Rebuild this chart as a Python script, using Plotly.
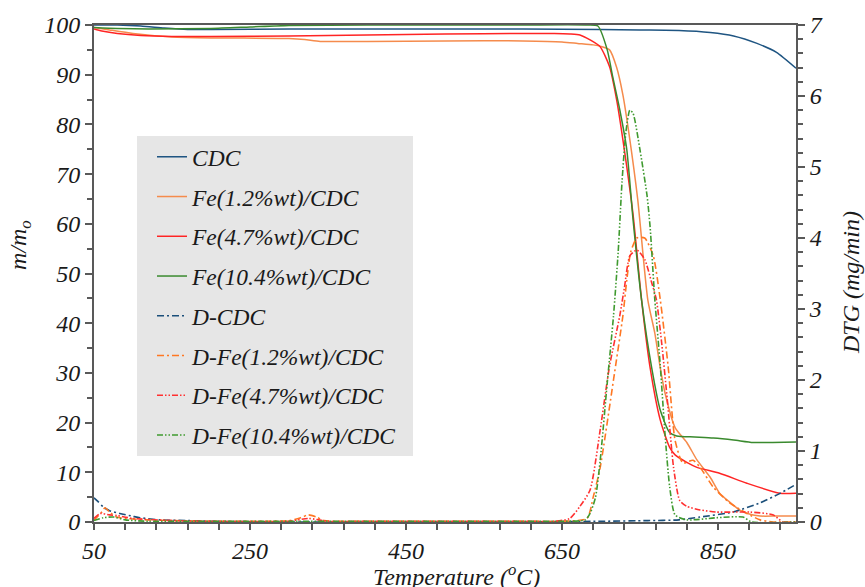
import plotly.graph_objects as go

# ---------------- data ----------------
T_cdc = [50, 80, 110, 140, 170, 200, 300, 400, 500, 600, 700, 750, 800, 840, 870, 900, 925, 950]
m_cdc = [100, 100, 99.8, 99.4, 99.1, 99.1, 99.2, 99.2, 99.2, 99.2, 99.1, 99.0, 98.9, 98.5, 97.8, 96.3, 94.5, 91.3]

T_fe12 = [50, 70, 100, 150, 200, 300, 320, 340, 400, 500, 600, 650, 670, 690, 700, 711, 720, 728, 736, 747,
          760, 769, 776, 782, 795, 810, 823, 840, 852, 865, 878, 890, 904, 925, 950]
m_fe12 = [99.5, 99.0, 98.3, 97.6, 97.4, 97.3, 97.1, 96.7, 96.7, 96.8, 96.8, 96.6, 96.3, 96.0, 95.7, 95.0, 91.5,
          86, 78, 65, 44.7, 38, 31, 26, 19, 16, 12.5, 9, 5.8, 4, 2.4, 1.6, 1.2, 1.2, 1.2]

T_fe47 = [50, 60, 80, 110, 150, 200, 300, 400, 500, 600, 640, 660, 673, 686, 699, 711, 720, 728, 741, 752,
          763, 776, 788, 795, 810, 823, 852, 887, 929, 950]
m_fe47 = [99.2, 98.8, 98.3, 97.9, 97.7, 97.7, 97.8, 98.0, 98.2, 98.3, 98.3, 98.2, 98.0, 97.0, 95.6, 91.6, 85,
          77, 62, 44.7, 31, 20.5, 15, 13.5, 12, 11, 9.8, 7.8, 5.8, 5.8]

T_fe104 = [50, 80, 120, 200, 250, 300, 400, 500, 600, 680, 696, 708, 715, 724, 733, 741, 752, 765, 776, 788,
           797, 820, 844, 870, 895, 920, 950]
m_fe104 = [99.5, 99.3, 99.2, 99.3, 99.6, 99.9, 100, 100, 100, 100, 99.8, 95, 89.6, 83, 75, 61, 44.7, 31, 22.5,
           18, 17.3, 17.1, 16.9, 16.5, 16.0, 16.0, 16.1]

Td_cdc = [50, 55, 62, 70, 83, 100, 109, 135, 170, 200, 300, 400, 500, 600, 700, 760, 800, 827, 869, 904, 929, 950]
d_cdc = [0.34, 0.29, 0.21, 0.16, 0.12, 0.08, 0.06, 0.03, 0.02, 0.01, 0, 0, 0, 0, 0.01, 0.02, 0.03, 0.07, 0.14,
         0.27, 0.40, 0.53]

Td_fe12 = [50, 54, 60, 64, 70, 79, 92, 118, 150, 200, 300, 315, 325, 335, 345, 400, 500, 600, 650, 682, 690,
           699, 716, 728, 733, 738, 746, 756, 767, 776, 786, 795, 805, 818, 827, 844, 865, 887, 904, 920, 950]
d_fe12 = [0.02, 0.07, 0.14, 0.20, 0.14, 0.07, 0.05, 0.03, 0.02, 0.01, 0.02, 0.06, 0.10, 0.07, 0.02, 0.01, 0.01,
          0.01, 0.01, 0.05, 0.35, 0.77, 2.0, 2.9, 3.4, 3.8, 4.0, 4.0, 3.75, 3.13, 2.2, 1.15, 0.83, 0.87, 0.77,
          0.49, 0.27, 0.12, 0.03, 0, 0]

Td_fe47 = [50, 58, 70, 80, 100, 150, 200, 300, 325, 350, 400, 500, 600, 640, 660, 673, 686, 699, 711, 724, 730,
           737, 746, 756, 765, 771, 778, 785, 793, 801, 810, 827, 848, 891, 921, 933, 950]
d_fe47 = [0.05, 0.12, 0.10, 0.09, 0.05, 0.02, 0.01, 0.01, 0.05, 0.01, 0.01, 0.01, 0.01, 0.01, 0.05, 0.22, 0.45,
          1.3, 2.2, 2.9, 3.3, 3.75, 3.83, 3.7, 3.37, 3.13, 2.5, 1.72, 0.77, 0.30, 0.22, 0.17, 0.14, 0.14, 0.10,
          0, 0]

Td_fe104 = [50, 62, 75, 90, 120, 200, 300, 400, 500, 600, 650, 680, 686, 693, 699, 708, 716, 722, 727, 732, 737,
            741, 750, 759, 763, 769, 776, 782, 788, 795, 810, 848, 882, 893, 950]
d_fe104 = [0.02, 0.06, 0.07, 0.03, 0.01, 0.01, 0.01, 0.01, 0.01, 0.01, 0.01, 0.03, 0.12, 0.35, 0.87, 1.96, 2.9,
           3.8, 4.8, 5.5, 5.8, 5.76, 5.24, 4.6, 4.15, 3.13, 2.2, 1.25, 0.5, 0.1, 0.03, 0.06, 0.07, 0, 0]

names = ["CDC", "Fe(1.2%wt)/CDC", "Fe(4.7%wt)/CDC", "Fe(10.4%wt)/CDC",
         "D-CDC", "D-Fe(1.2%wt)/CDC", "D-Fe(4.7%wt)/CDC", "D-Fe(10.4%wt)/CDC"]

# ---------------- styling ----------------
FONT = "Liberation Serif"
AX = "#595959"
TXT = "#1a1a1a"
c_cdc, c_fe12, c_fe47, c_fe104 = "#1f5582", "#f58b4c", "#ff2424", "#3a8a2e"
cd_cdc, cd_fe12, cd_fe47, cd_fe104 = "#1b4f7a", "#ff7722", "#ff3030", "#3f9a2f"
DASHDOT = "7px,3px,2px,3px"
DASHDOTDOT = "6px,2px,1.5px,2px,1.5px,2px"

fig = go.Figure()
solid = [(T_cdc, m_cdc, c_cdc), (T_fe12, m_fe12, c_fe12), (T_fe47, m_fe47, c_fe47), (T_fe104, m_fe104, c_fe104)]
for i, (x, y, c) in enumerate(solid):
    fig.add_trace(go.Scatter(x=x, y=y, mode="lines", name=names[i], legendgroup=f"g{i}",
                             line=dict(color=c, width=1.5, shape="spline", smoothing=0.6)))
dtg = [(Td_cdc, d_cdc, cd_cdc, DASHDOT), (Td_fe12, d_fe12, cd_fe12, DASHDOT),
       (Td_fe47, d_fe47, cd_fe47, DASHDOTDOT), (Td_fe104, d_fe104, cd_fe104, DASHDOTDOT)]
for j, (x, y, c, dsh) in enumerate(dtg):
    i = j + 4
    fig.add_trace(go.Scatter(x=x, y=y, mode="lines", name=names[i], legendgroup=f"g{i}", yaxis="y2",
                             line=dict(color=c, width=1.6, dash=dsh, shape="spline", smoothing=0.6)))

tickfont = dict(family=FONT, size=24, color=TXT, style="italic")
titlefont = dict(family=FONT, size=24, color=TXT, style="italic")
fig.update_layout(
    width=865, height=587,
    margin=dict(l=94, r=69, t=25, b=65),
    paper_bgcolor="white", plot_bgcolor="white",
    showlegend=True,
    legend=dict(x=(152 - 94) / 702, y=(522 - 135) / 497, xanchor="left", yanchor="top",
                bgcolor="rgba(0,0,0,0)", borderwidth=0, traceorder="grouped", tracegroupgap=6.2,
                itemwidth=30, font=dict(family=FONT, size=23.5, color=TXT, style="italic")),
    xaxis=dict(range=[50, 950], tickvals=[50, 250, 450, 650, 850], ticks="outside", ticklen=6,
               tickwidth=1.5, tickcolor=AX, showline=True, linecolor=AX, linewidth=2, mirror=True,
               showgrid=False, zeroline=False, tickfont=tickfont,
               minor=dict(dtick=40, tick0=50, ticks="outside", ticklen=6, tickwidth=1.5, tickcolor=AX)),
    yaxis=dict(range=[0, 100], dtick=10, ticks="outside", ticklen=7, tickwidth=1.5, tickcolor=AX,
               showline=True, linecolor=AX, linewidth=2, showgrid=False, zeroline=False, tickfont=tickfont,
               minor=dict(dtick=5, ticks="outside", ticklen=5, tickwidth=1.5, tickcolor=AX)),
    yaxis2=dict(range=[0, 7], dtick=1, overlaying="y", side="right", ticks="outside", ticklen=7,
                tickwidth=1.5, tickcolor=AX, showline=True, linecolor=AX, linewidth=2, showgrid=False,
                zeroline=False, tickfont=tickfont,
                minor=dict(dtick=0.2, ticks="outside", ticklen=5, tickwidth=1.5, tickcolor=AX)),
    shapes=[dict(type="rect", xref="paper", yref="paper", layer="below",
                 x0=(137 - 94) / 702, x1=(413 - 94) / 702, y0=(522 - 456) / 497, y1=(522 - 136) / 497,
                 fillcolor="#e6e6e6", line=dict(width=0))],
    annotations=[
        dict(text="Temperature (<sup>o</sup>C)", xref="paper", yref="paper", x=(456 - 94) / 702,
             y=(522 - 575) / 497, showarrow=False, xanchor="center", yanchor="middle", font=titlefont),
        dict(text="m/m<sub>o</sub>", xref="paper", yref="paper", x=(20 - 94) / 702, y=(522 - 245) / 497,
             showarrow=False, textangle=-90, xanchor="center", yanchor="middle", font=titlefont),
        dict(text="DTG (mg/min)", xref="paper", yref="paper", x=(851 - 94) / 702, y=(522 - 283) / 497,
             showarrow=False, textangle=-90, xanchor="center", yanchor="middle", font=titlefont),
    ],
)

fig.write_html("out.html", config={"displayModeBar": False},
               post_script="document.body.style.margin='0';document.body.style.overflow='hidden';")
